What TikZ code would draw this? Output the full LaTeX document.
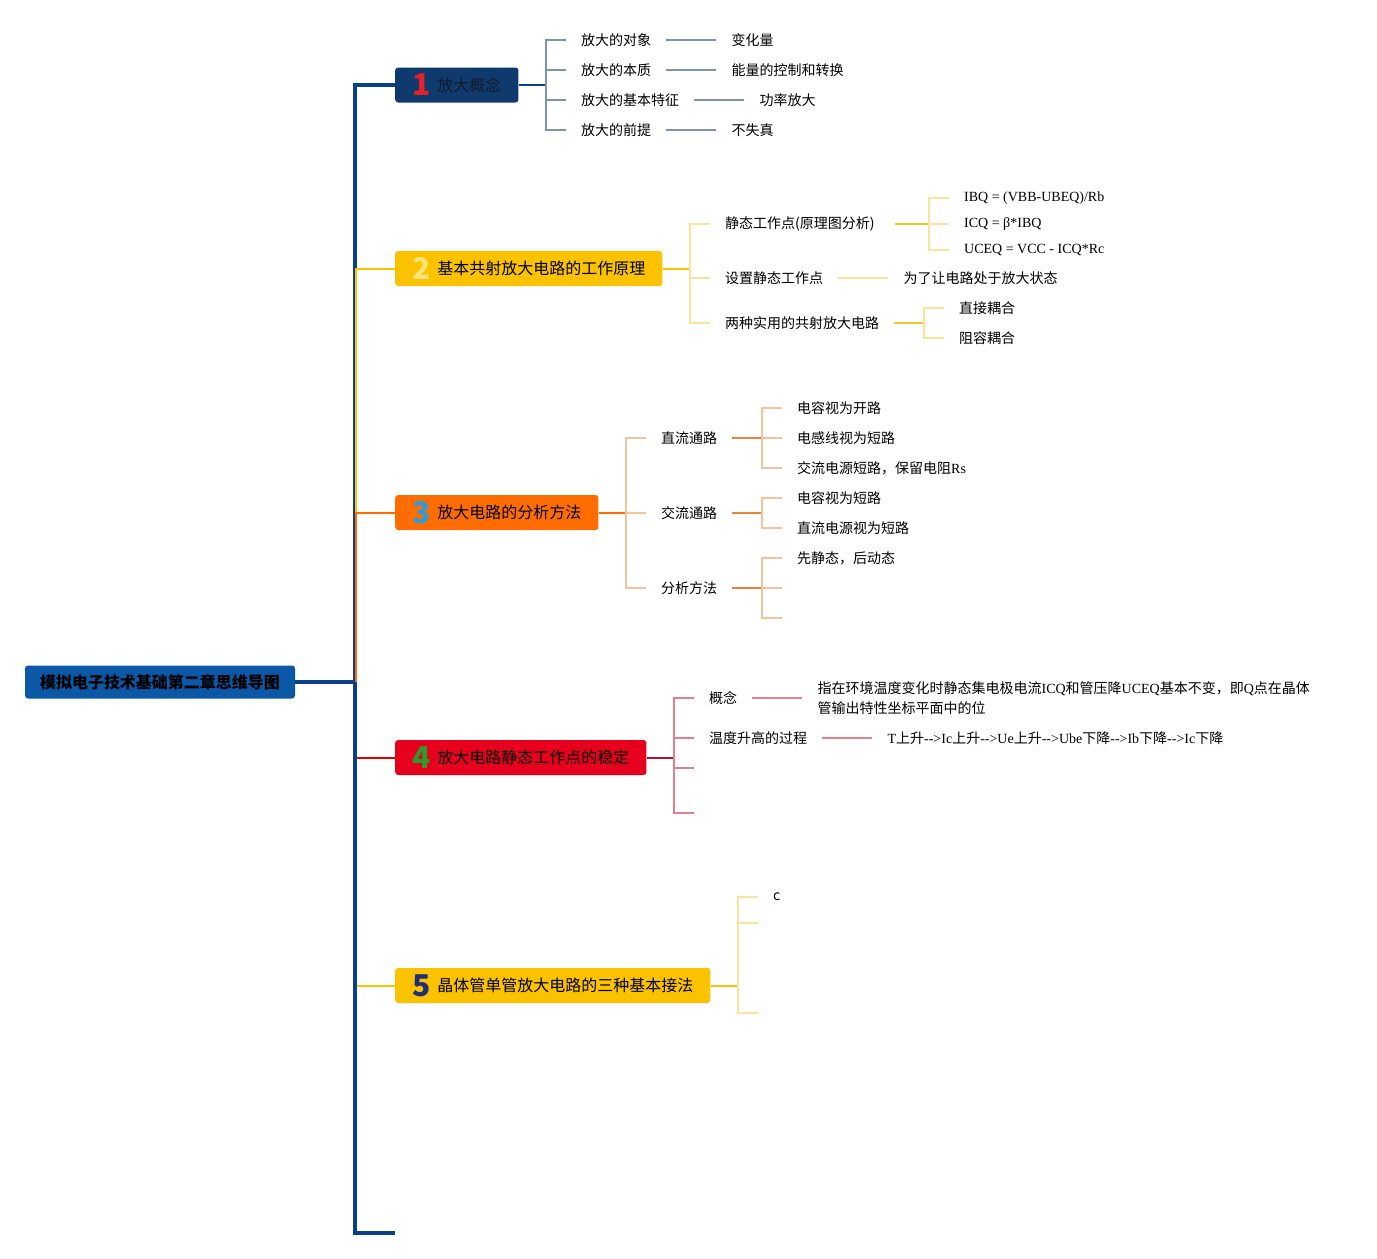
\documentclass[tikz,border=0pt]{standalone}
\usepackage{fontspec}
\usepackage{xcolor}
\usepackage{tikz}
\usetikzlibrary{positioning}
\setmainfont{Liberation Serif}
\newfontfamily\cjk{Noto Sans CJK SC}

\definecolor{trunkblue}{HTML}{0B4088}
\definecolor{rootblue}{HTML}{0B58A6}
\definecolor{navybox}{HTML}{0F3A6D}
\definecolor{navytext}{HTML}{121A2C}
\definecolor{amberbox}{HTML}{FBC200}
\definecolor{orangebox}{HTML}{FF6D00}
\definecolor{redbox}{HTML}{E6001E}
\definecolor{slateline}{HTML}{7F93A8}
\definecolor{paleamber}{HTML}{FCE39A}
\definecolor{midamber}{HTML}{F2C42C}
\definecolor{paleorange}{HTML}{F6C29A}
\definecolor{midorange}{HTML}{E8843C}
\definecolor{darkred}{HTML}{B0122E}
\definecolor{pinkline}{HTML}{E3808F}
\definecolor{numred}{HTML}{E8202A}
\definecolor{numyellow}{HTML}{FDE47A}
\definecolor{numblue}{HTML}{2F9BD6}
\definecolor{numgreen}{HTML}{2E9A2E}
\definecolor{numnavy}{HTML}{1D2F78}

\newcommand\latn[1]{{\rmfamily#1}}
\newcommand\tnum[2]{\raisebox{-4.5pt}[0pt][0pt]{\color{#1}\fontsize{30}{30}\selectfont\bfseries #2}\hspace{7pt}}

\begin{document}
\begin{tikzpicture}[
    x=1pt, y=-1pt,
    rootbox/.style={rectangle, rounded corners=3pt, fill=rootblue, text=black,
                    minimum height=33pt, inner xsep=15pt, inner ysep=0pt,
                    font=\cjk\bfseries\fontsize{16}{18}\selectfont},
    topic/.style={rectangle, rounded corners=3pt, anchor=west, text=black,
                  minimum height=35pt, inner xsep=17pt, inner ysep=0pt,
                  font=\cjk\fontsize{16}{18}\selectfont},
    item/.style={inner sep=0pt, anchor=west, font=\cjk\fontsize{14}{16}\selectfont},
    trunk/.style={draw=trunkblue, line width=4pt},
    wire/.style={line width=2pt},
  ]
    \useasboundingbox (0,0) rectangle (1377,1259);

    % root and main topics
    \node[rootbox] (root) at (160,682) {模拟电子技术基础第二章思维导图};
    \coordinate (hub) at (355,682);
    \coordinate (tail) at (395,1233);
    \node[topic, fill=navybox, text=navytext] (b1) at (395,85) {\tnum{numred}{1}放大概念};
    \node[topic, fill=amberbox] (b2) at (395,268.5) {\tnum{numyellow}{2}基本共射放大电路的工作原理};
    \node[topic, fill=orangebox] (b3) at (395,512.5) {\tnum{numblue}{3}放大电路的分析方法};
    \node[topic, fill=redbox] (b4) at (395,757.5) {\tnum{numgreen}{4}放大电路静态工作点的稳定};
    \node[topic, fill=amberbox] (b5) at (395,985.5) {\tnum{numnavy}{5}晶体管单管放大电路的三种基本接法};

    \draw[wire, red!90!black] (hub) |- (b4.west);
    \draw[wire, amberbox] (hub) |- (b5.west);
    \draw[trunk] (root.east) -- (hub);
    \draw[trunk] (hub) |- (b1.west);
    \draw[trunk] (hub) |- (tail);
    \draw[wire, amberbox] ([xshift=1pt]hub) |- (b2.west);
    \draw[wire, orangebox] ([xshift=1pt]hub) |- (b3.west);

    % 1 放大概念
    \coordinate (k1) at (546,85);
    \node[item] (c11) at (581,40) {放大的对象};
    \node[item] (c12) at (581,70) {放大的本质};
    \node[item] (c13) at (581,100) {放大的基本特征};
    \node[item] (c14) at (581,130) {放大的前提};
    \node[item, right=80pt of c11] (d11) {变化量};
    \node[item, right=80pt of c12] (d12) {能量的控制和转换};
    \node[item, right=80pt of c13] (d13) {功率放大};
    \node[item, right=80pt of c14] (d14) {不失真};

    \draw[wire, trunkblue] (b1.east) -- (k1);
    \draw[wire, slateline] (k1) |- ([xshift=-15pt]c11.west);
    \draw[wire, slateline] (k1) |- ([xshift=-15pt]c12.west);
    \draw[wire, slateline] (k1) |- ([xshift=-15pt]c13.west);
    \draw[wire, slateline] (k1) |- ([xshift=-15pt]c14.west);
    \draw[wire, slateline] ([xshift=15pt]c11.east) -- ([xshift=-15pt]d11.west);
    \draw[wire, slateline] ([xshift=15pt]c12.east) -- ([xshift=-15pt]d12.west);
    \draw[wire, slateline] ([xshift=15pt]c13.east) -- ([xshift=-15pt]d13.west);
    \draw[wire, slateline] ([xshift=15pt]c14.east) -- ([xshift=-15pt]d14.west);

    % 2 基本共射放大电路
    \coordinate (k2) at (690,268.5);
    \node[item] (c21) at (725,224) {静态工作点(原理图分析)};
    \node[item] (c22) at (725,278) {设置静态工作点};
    \node[item] (c23) at (725,323) {两种实用的共射放大电路};
    \coordinate (k21) at (929,224);
    \node[item] (g211) at (964,198) {\latn{IBQ = (VBB-UBEQ)/Rb}};
    \node[item] (g212) at (964,224) {\latn{ICQ = β*IBQ}};
    \node[item] (g213) at (964,250) {\latn{UCEQ = VCC - ICQ*Rc}};
    \node[item, right=80pt of c22] (d22) {为了让电路处于放大状态};
    \coordinate (k23) at (924,323);
    \node[item] (g231) at (959,308) {直接耦合};
    \node[item] (g232) at (959,338) {阻容耦合};

    \draw[wire, amberbox] (b2.east) -- (k2);
    \draw[wire, paleamber] (k2) |- ([xshift=-15pt]c21.west);
    \draw[wire, paleamber] (k2) |- ([xshift=-15pt]c22.west);
    \draw[wire, paleamber] (k2) |- ([xshift=-15pt]c23.west);
    \draw[wire, midamber] ([xshift=20pt]c21.east) -- (k21);
    \draw[wire, paleamber] (k21) |- ([xshift=-15pt]g211.west);
    \draw[wire, paleamber] (k21) |- ([xshift=-15pt]g212.west);
    \draw[wire, paleamber] (k21) |- ([xshift=-15pt]g213.west);
    \draw[wire, paleamber] ([xshift=15pt]c22.east) -- ([xshift=-15pt]d22.west);
    \draw[wire, midamber] ([xshift=15pt]c23.east) -- (k23);
    \draw[wire, paleamber] (k23) |- ([xshift=-15pt]g231.west);
    \draw[wire, paleamber] (k23) |- ([xshift=-15pt]g232.west);

    % 3 分析方法
    \coordinate (k3) at (626,512.5);
    \node[item] (c31) at (661,438) {直流通路};
    \node[item] (c32) at (661,513) {交流通路};
    \node[item] (c33) at (661,588) {分析方法};
    \coordinate (k31) at (762,438);
    \node[item] (g311) at (797,408) {电容视为开路};
    \node[item] (g312) at (797,438) {电感线视为短路};
    \node[item] (g313) at (797,468) {交流电源短路，保留电阻\latn{Rs}};
    \coordinate (k32) at (762,513);
    \node[item] (g321) at (797,498) {电容视为短路};
    \node[item] (g322) at (797,528) {直流电源视为短路};
    \coordinate (k33) at (762,588);
    \node[item] (g331) at (797,558) {先静态，后动态};
    \coordinate (g332) at (782,588);
    \coordinate (g333) at (782,618);

    \draw[wire, orangebox] (b3.east) -- (k3);
    \draw[wire, paleorange] (k3) |- ([xshift=-15pt]c31.west);
    \draw[wire, paleorange] (k3) |- ([xshift=-15pt]c32.west);
    \draw[wire, paleorange] (k3) |- ([xshift=-15pt]c33.west);
    \draw[wire, midorange] ([xshift=15pt]c31.east) -- (k31);
    \draw[wire, midorange] ([xshift=15pt]c32.east) -- (k32);
    \draw[wire, midorange] ([xshift=15pt]c33.east) -- (k33);
    \draw[wire, paleorange] (k31) |- ([xshift=-15pt]g311.west);
    \draw[wire, paleorange] (k31) |- ([xshift=-15pt]g312.west);
    \draw[wire, paleorange] (k31) |- ([xshift=-15pt]g313.west);
    \draw[wire, paleorange] (k32) |- ([xshift=-15pt]g321.west);
    \draw[wire, paleorange] (k32) |- ([xshift=-15pt]g322.west);
    \draw[wire, paleorange] (k33) |- ([xshift=-15pt]g331.west);
    \draw[wire, paleorange] (k33) |- (g332);
    \draw[wire, paleorange] (k33) |- (g333);

    % 4 静态工作点的稳定
    \coordinate (k4) at (674,757.5);
    \node[item] (c41) at (709,698) {概念};
    \node[item] (c42) at (709,738) {温度升高的过程};
    \coordinate (c43) at (694,768);
    \coordinate (c44) at (694,813);
    \node[item, align=left, font=\cjk\fontsize{14}{20}\selectfont, right=80pt of c41] (d41)
      {指在环境温度变化时静态集电极电流\latn{ICQ}和管压降\latn{UCEQ}基本不变，即\latn{Q}点在晶体\\管输出特性坐标平面中的位};
    \node[item, right=80pt of c42] (d42)
      {\latn{T}上升\latn{-{}->Ic}上升\latn{-{}->Ue}上升\latn{-{}->Ube}下降\latn{-{}->Ib}下降\latn{-{}->Ic}下降};

    \draw[wire, darkred] (b4.east) -- (k4);
    \draw[wire, pinkline] (k4) |- ([xshift=-15pt]c41.west);
    \draw[wire, pinkline] (k4) |- ([xshift=-15pt]c42.west);
    \draw[wire, pinkline] (k4) |- (c43);
    \draw[wire, pinkline] (k4) |- (c44);
    \draw[wire, pinkline] ([xshift=15pt]c41.east) -- ([xshift=-15pt]d41.west);
    \draw[wire, pinkline] ([xshift=15pt]c42.east) -- ([xshift=-15pt]d42.west);

    % 5 三种基本接法
    \coordinate (k5) at (738,985.5);
    \node[item] (c51) at (773,897) {c};
    \coordinate (c52) at (758,923);
    \coordinate (c53) at (758,1013);

    \draw[wire, amberbox] (b5.east) -- (k5);
    \draw[wire, paleamber] (k5) |- ([xshift=-15pt]c51.west);
    \draw[wire, paleamber] (k5) |- (c52);
    \draw[wire, paleamber] (k5) |- (c53);
\end{tikzpicture}
\end{document}
